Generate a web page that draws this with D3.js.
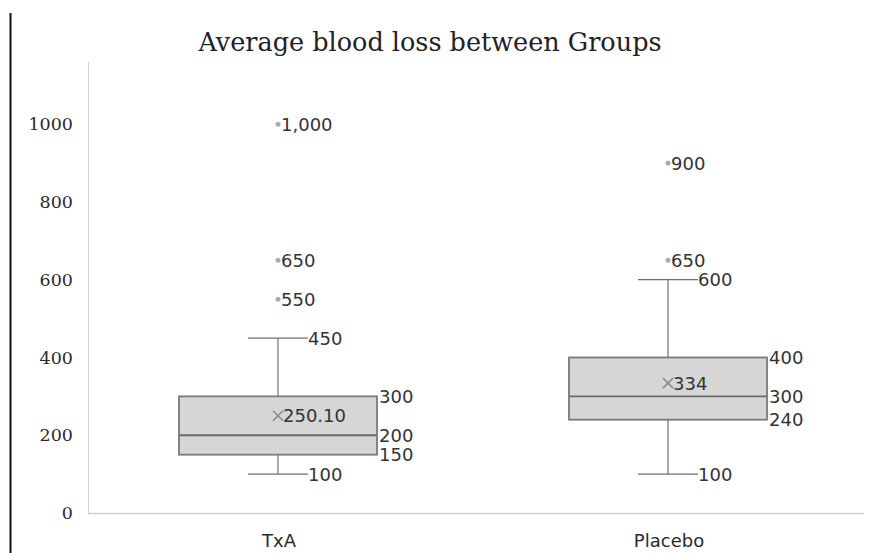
<!DOCTYPE html>
<html>
<head>
<meta charset="utf-8">
<script src="https://cdn.jsdelivr.net/npm/d3@7"></script>
<style>
  html, body { margin: 0; padding: 0; background: #fff; }
  svg { display: block; }
</style>
</head>
<body>
<svg id="chart" width="871" height="553"></svg>
<script>
// Blood loss by group: box-and-whisker summary
const groups = ["TxA", "Placebo"];
const lowerWhisker = [100, 100];
const q1 = [150, 240];
const median = [200, 300];
const q3 = [300, 400];
const upperWhisker = [450, 600];
const means = [250.10, 334];
const outliers = [[550, 650, 1000], [650, 900]];
const yTicks = [0, 200, 400, 600, 800, 1000];
const titleText = "Average blood loss between Groups";

const svg = d3.select("#chart");
const W = 871, H = 553;
const plot = { left: 84, right: 864, top: 62, bottom: 513 };

const x = d3.scaleBand().domain(groups).range([plot.left, plot.right]).paddingInner(0).paddingOuter(0);
const y = d3.scaleLinear().domain([0, 1160]).range([plot.bottom, plot.top]);

const boxW = 198, capW = 60, off = -1;
const cx = g => x(g) + x.bandwidth() / 2 + off;

// outer page rule on the left
svg.append("line").attr("x1", 10.5).attr("x2", 10.5).attr("y1", 13).attr("y2", H)
  .attr("stroke", "#111").attr("stroke-width", 2);

// title
svg.append("text").attr("x", 430).attr("y", 51).attr("text-anchor", "middle")
  .attr("font-family", "DejaVu Serif").attr("font-size", 25.5).attr("fill", "#222")
  .text(titleText);

// plot frame: left edge and baseline
svg.append("line").attr("x1", 88.5).attr("x2", 88.5).attr("y1", plot.top).attr("y2", plot.bottom)
  .attr("stroke", "#d4d4d4").attr("stroke-width", 1);
svg.append("line").attr("x1", 88).attr("x2", plot.right).attr("y1", plot.bottom + 0.5).attr("y2", plot.bottom + 0.5)
  .attr("stroke", "#cfcfcf").attr("stroke-width", 1.5);

// y axis labels
const yAxis = d3.axisLeft(y).tickValues(yTicks).tickSize(0).tickPadding(0).tickFormat(d3.format("d"));
const ya = svg.append("g").attr("transform", "translate(73,0)").call(yAxis);
ya.select(".domain").remove();
ya.selectAll("text").attr("font-family", "DejaVu Serif").attr("font-size", 17.5).attr("fill", "#2a2a2a");

// x axis labels
const xAxis = d3.axisBottom(x).tickSize(0).tickPadding(0);
const xa = svg.append("g").attr("transform", `translate(0,${plot.bottom + 21})`).call(xAxis);
xa.select(".domain").remove();
xa.selectAll("text").attr("font-family", "DejaVu Sans").attr("font-size", 18).attr("fill", "#2a2a2a");

const labelFont = { family: "DejaVu Sans", size: 18, fill: "#333" };
function label(xp, yv, txt) {
  svg.append("text").attr("x", xp).attr("y", y(yv)).attr("dy", "0.36em")
    .attr("font-family", labelFont.family).attr("font-size", labelFont.size)
    .attr("fill", labelFont.fill).text(txt);
}

const fmt = d3.format(",");
groups.forEach((g, i) => {
  const c = cx(g);
  // whiskers
  svg.append("line").attr("x1", c).attr("x2", c).attr("y1", y(lowerWhisker[i])).attr("y2", y(q1[i]))
    .attr("stroke", "#6f6f6f").attr("stroke-width", 1.2);
  svg.append("line").attr("x1", c).attr("x2", c).attr("y1", y(q3[i])).attr("y2", y(upperWhisker[i]))
    .attr("stroke", "#6f6f6f").attr("stroke-width", 1.2);
  [lowerWhisker[i], upperWhisker[i]].forEach(v => {
    svg.append("line").attr("x1", c - capW / 2).attr("x2", c + capW / 2).attr("y1", y(v)).attr("y2", y(v))
      .attr("stroke", "#6f6f6f").attr("stroke-width", 1.2);
  });
  // box
  svg.append("rect").attr("x", c - boxW / 2).attr("y", y(q3[i]))
    .attr("width", boxW).attr("height", y(q1[i]) - y(q3[i]))
    .attr("fill", "#d6d6d6").attr("stroke", "#7a7a7a").attr("stroke-width", 1.8);
  svg.append("line").attr("x1", c - boxW / 2).attr("x2", c + boxW / 2).attr("y1", y(median[i])).attr("y2", y(median[i]))
    .attr("stroke", "#6a6a6a").attr("stroke-width", 1.8);
  // mean marker
  const my = y(means[i]), s = 5;
  svg.append("path").attr("d", `M${c - s},${my - s}L${c + s},${my + s}M${c - s},${my + s}L${c + s},${my - s}`)
    .attr("stroke", "#8a8a8a").attr("stroke-width", 1.5).attr("fill", "none");
  label(c + 5, means[i], d3.format(means[i] % 1 ? ".2f" : "d")(means[i]));
  // outliers
  outliers[i].forEach(v => {
    svg.append("circle").attr("cx", c).attr("cy", y(v)).attr("r", 2.5).attr("fill", "#aaa");
    label(c + 3, v, fmt(v));
  });
  // box and whisker value labels
  label(c + boxW / 2 + 2, q3[i], fmt(q3[i]));
  label(c + boxW / 2 + 2, median[i], fmt(median[i]));
  label(c + boxW / 2 + 2, q1[i], fmt(q1[i]));
  label(c + capW / 2, upperWhisker[i], fmt(upperWhisker[i]));
  label(c + capW / 2, lowerWhisker[i], fmt(lowerWhisker[i]));
});
</script>
</body>
</html>
